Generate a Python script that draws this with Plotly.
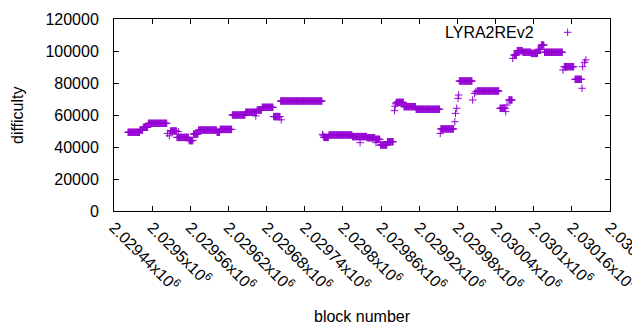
import plotly.graph_objects as go

# ---- data ----
# runs of consecutive blocks sharing the same difficulty
run_start = [2029462, 2029481, 2029486, 2029494, 2029529, 2029539, 2029558, 2029565,
             2029573, 2029602, 2029607, 2029626, 2029647, 2029665, 2029673, 2029691,
             2029702, 2029770, 2029778, 2029815, 2029838, 2029851, 2029859, 2029870,
             2029884, 2029896, 2029915, 2029954, 2029983, 2030011, 2030047, 2030061,
             2030069, 2030074, 2030083, 2030096, 2030107, 2030112, 2030117, 2030148,
             2030165]
run_end = [2029480, 2029485, 2029493, 2029523, 2029538, 2029557, 2029564, 2029572,
           2029601, 2029606, 2029625, 2029646, 2029664, 2029672, 2029690, 2029701,
           2029767, 2029777, 2029814, 2029837, 2029850, 2029858, 2029869, 2029879,
           2029895, 2029914, 2029952, 2029974, 2030003, 2030045, 2030055, 2030066,
           2030073, 2030082, 2030095, 2030106, 2030111, 2030116, 2030145, 2030163,
           2030175]
run_diff = [49200, 50600, 52300, 54800, 50000, 46000, 44000, 48100,
            50600, 49200, 51000, 60000, 61700, 63100, 64800, 59000,
            68750, 46000, 47500, 46500, 45800, 44800, 41250, 43300,
            67900, 65200, 63600, 51300, 81250, 75000, 64200, 69400,
            97500, 100200, 99200, 98500, 101000, 103750, 99200, 90200,
            82300]

# individual blocks outside the runs
single_block = [2029524, 2029527, 2029541, 2029663, 2029703, 2029768, 2029769,
                2029827, 2029852, 2029881, 2029882, 2029883, 2029953, 2029976,
                2029977, 2029979, 2029981, 2029982, 2030004, 2030007, 2030009,
                2030056, 2030058, 2030067, 2030146, 2030176, 2030177, 2030180,
                2030182]
single_diff = [48500, 47000, 49600, 59400, 57000, 47900, 47000,
               42700, 42700, 62700, 65500, 67000, 48500, 55800,
               61000, 64200, 70400, 72500, 69400, 73500, 74500,
               62100, 66250, 95400, 88100, 76700, 90200, 92900,
               94400]

x_tick_vals = [2029440, 2029500, 2029560, 2029620, 2029680, 2029740, 2029800,
               2029860, 2029920, 2029980, 2030040, 2030100, 2030160, 2030220]
x_tick_mant = ["2.02944", "2.0295", "2.02956", "2.02962", "2.02968", "2.02974",
               "2.0298", "2.02986", "2.02992", "2.02998", "2.03004", "2.0301",
               "2.03016", "2.03022"]
y_tick_vals = [0, 20000, 40000, 60000, 80000, 100000, 120000]
y_tick_text = ["0", "20000", "40000", "60000", "80000", "100000", "120000"]

series_name = "LYRA2REv2"
color = "#9400d3"

# ---- expand runs into one point per block ----
xs, ys = [], []
for s, e, d in zip(run_start, run_end, run_diff):
    for b in range(s, e + 1):
        xs.append(b)
        ys.append(d)
xs += single_block
ys += single_diff

FONT = "Liberation Sans, Arial, sans-serif"

fig = go.Figure()
fig.add_trace(go.Scatter(
    x=xs, y=ys, mode="markers", name=series_name, showlegend=False,
    marker=dict(symbol="cross-thin", size=5.3, color=color,
                line=dict(color=color, width=1)),
))

axis_common = dict(showline=True, linecolor="black", linewidth=1, mirror="ticks",
                   ticks="inside", ticklen=5, tickcolor="black", tickwidth=1,
                   showgrid=False, zeroline=False, ticklabeloverflow="allow",
                   tickfont=dict(family=FONT, size=16, color="black"))

fig.update_xaxes(range=[x_tick_vals[0], x_tick_vals[-1]],
                 tickvals=x_tick_vals,
                 ticktext=[m + "x10<sup>6</sup>" for m in x_tick_mant],
                 tickangle=45, **axis_common)
fig.update_yaxes(range=[y_tick_vals[0], y_tick_vals[-1]],
                 tickvals=y_tick_vals, ticktext=y_tick_text,
                 ticklabelstandoff=11, **axis_common)

# page has an 8px body margin: the figure is sized/offset to compensate
fig.update_layout(
    width=632, height=322,
    margin=dict(l=106, r=30, t=11, b=119, autoexpand=False),
    paper_bgcolor="white", plot_bgcolor="white",
    font=dict(family=FONT, size=16, color="black"),
    annotations=[
        dict(text="difficulty", xref="paper", yref="paper", x=0, y=0.5,
             xshift=-97, textangle=-90, showarrow=False,
             xanchor="center", yanchor="middle", font=dict(size=16)),
        dict(text="block number", xref="paper", yref="paper", x=0.5, y=0,
             yshift=-105, showarrow=False, xanchor="center", yanchor="middle",
             font=dict(size=16)),
        dict(text=series_name, xref="paper", yref="paper", x=0.8515, y=0.932,
             showarrow=False, xanchor="right", yanchor="middle",
             font=dict(size=16)),
    ],
    shapes=[
        dict(type="line", xref="paper", yref="paper", xsizemode="pixel",
             ysizemode="pixel", xanchor=0.9146, yanchor=0.9307,
             x0=-3.7, x1=3.7, y0=0, y1=0, line=dict(color=color, width=1)),
        dict(type="line", xref="paper", yref="paper", xsizemode="pixel",
             ysizemode="pixel", xanchor=0.9146, yanchor=0.9307,
             x0=0, x1=0, y0=-3.7, y1=3.7, line=dict(color=color, width=1)),
    ],
)

fig.write_html("out.html")
